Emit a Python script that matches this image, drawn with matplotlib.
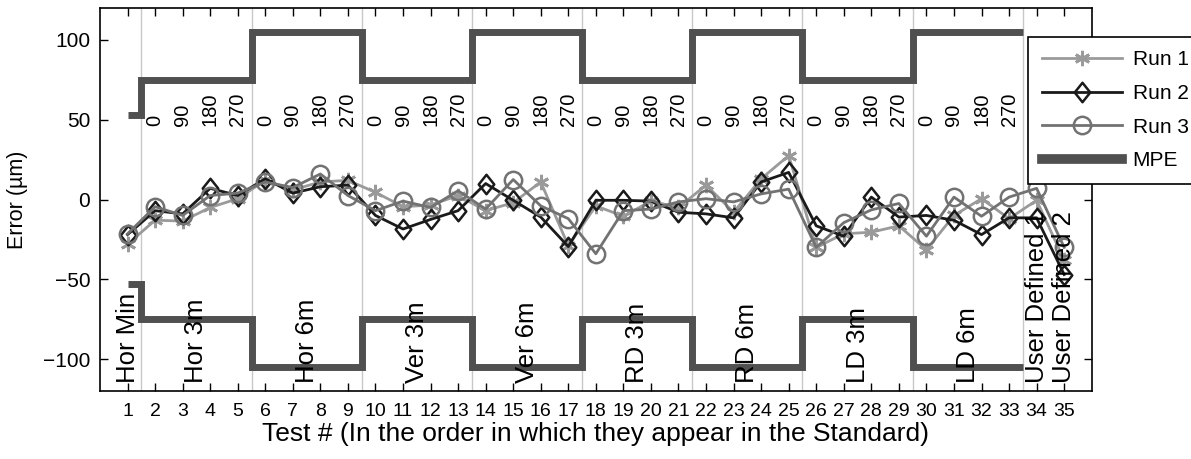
import numpy as np
import matplotlib
matplotlib.use("Agg")
import matplotlib.pyplot as plt
from matplotlib.lines import Line2D
from matplotlib.path import Path

plt.rcParams['font.family'] = ['Liberation Sans', 'DejaVu Sans']

# ---------------- data ----------------
tests = list(range(1, 36))
run1 = [-28, -13, -13.5, -5, 0.5, 12, 6, 11, 12, 4.5, -4.5, -3.5, 2.5, -7, -2,
        11, -29, -4, -10.5, -1, -5, 9, -8, 13, 27.5, -30, -21.5, -20.5, -16.5,
        -31.5, -10, 0.5, -12, -0.5, -38]
run2 = [-22, -7, -9, 7, 2.5, 13, 4, 8, 9, -10, -18.5, -12.5, -7, 10, -0.5,
        -11, -29.5, -0.5, -0.5, -1, -8, -9, -11.5, 11, 17, -16.5, -23, 1.5,
        -11, -10, -13, -22, -11.5, -11.5, -47]
run3 = [-21.5, -4.5, -10, 2.5, 4, 11, 7.5, 16, 2.5, -7, -1, -5, 5.5, -6, 12.5,
        -4, -12, -34, -7, -6, -1.5, 0.5, -1.5, 3.5, 6.5, -30, -14.5, -6.5,
        -2.5, -23, 1.5, -10.5, 1.5, 7, -30]

mpe_edges = [1, 1.5, 5.5, 9.5, 13.5, 17.5, 21.5, 25.5, 29.5, 33.5]
mpe_values = [53, 75, 105, 75, 105, 75, 105, 75, 105]

angle_tests = list(range(2, 34))
angle_labels = ['0', '90', '180', '270'] * 8

section_names = ['Hor Min', 'Hor 3m', 'Hor 6m', 'Ver 3m', 'Ver 6m', 'RD 3m',
                 'RD 6m', 'LD 3m', 'LD 6m', 'User Defined 1', 'User Defined 2']
section_pos = [1, 3.5, 7.5, 11.5, 15.5, 19.5, 23.5, 27.5, 31.5, 34, 35]
section_bounds = [1.5, 5.5, 9.5, 13.5, 17.5, 21.5, 25.5, 29.5, 33.5]

yticks = [-100, -50, 0, 50, 100]

# ---------------- figure ----------------
fig = plt.figure(figsize=(11.91, 4.59), dpi=100)
ax = fig.add_axes([100 / 1191, 68 / 459, 991.7 / 1191, 383 / 459])

c1, c2, c3, cm = '#9a9a9a', '#1a1a1a', '#727272', '#505050'

for b in section_bounds:
    ax.axvline(b, color='#c8c8c8', lw=1.0, zorder=0)

diamond = Path([(-0.8, 0), (0, 1), (0.8, 0), (0, -1), (-0.8, 0)],
               [Path.MOVETO, Path.LINETO, Path.LINETO, Path.LINETO, Path.CLOSEPOLY])

ax.plot(tests, run1, color=c1, lw=2.0, marker=(6, 2, 0), ms=11, mew=2.0,
        mec=c1, label='Run 1', zorder=3)
ax.plot(tests, run2, color=c2, lw=2.0, marker=diamond, ms=14, mew=1.8,
        mfc='none', mec=c2, label='Run 2', zorder=4)
ax.plot(tests, run3, color=c3, lw=2.0, marker='o', ms=12.5, mew=1.8,
        mfc='none', mec=c3, label='Run 3', zorder=5)

ax.stairs(mpe_values, mpe_edges, baseline=None, color=cm, lw=5, zorder=2)
ax.stairs([-v for v in mpe_values], mpe_edges, baseline=None, color=cm, lw=5,
          zorder=2)

for t, lab in zip(angle_tests, angle_labels):
    ax.text(t, 46, lab, rotation=90, ha='center', va='bottom', fontsize=14.5,
            zorder=6)
for p, lab in zip(section_pos, section_names):
    ax.text(p, -115, lab, rotation=90, ha='center', va='bottom', fontsize=18.5,
            zorder=6)

ax.set_xlim(0, 36)
ax.set_ylim(-120, 120)
ax.set_xticks(tests)
ax.set_yticks(yticks)
ax.tick_params(direction='in', top=True, right=True, labelsize=14, length=6,
               width=1)
ax.tick_params(axis='y', labelsize=15, pad=7)
ax.tick_params(axis='x', pad=9)
for s in ax.spines.values():
    s.set_linewidth(1.2)

ax.set_xlabel('Test # (In the order in which they appear in the Standard)',
              fontsize=19, labelpad=1)
ax.set_ylabel('Error (µm)', fontsize=15.5, labelpad=11)

handles = [
    Line2D([], [], color=c1, lw=2.0, marker=(6, 2, 0), ms=11, mew=2.0, mec=c1),
    Line2D([], [], color=c2, lw=2.0, marker=diamond, ms=14, mew=1.8,
           mfc='none', mec=c2),
    Line2D([], [], color=c3, lw=2.0, marker='o', ms=12.5, mew=1.8,
           mfc='none', mec=c3),
    Line2D([], [], color=cm, lw=7),
]
leg = ax.legend(handles, ['Run 1', 'Run 2', 'Run 3', 'MPE'],
                loc='upper left', bbox_to_anchor=(0.936, 0.925),
                borderaxespad=0, fontsize=15, handlelength=3.85,
                handletextpad=0.5, labelspacing=0.70, borderpad=0.66,
                fancybox=False, framealpha=1, edgecolor='black')
leg.get_frame().set_linewidth(1.2)
leg.set_zorder(10)

fig.savefig('out.png', dpi=100)
